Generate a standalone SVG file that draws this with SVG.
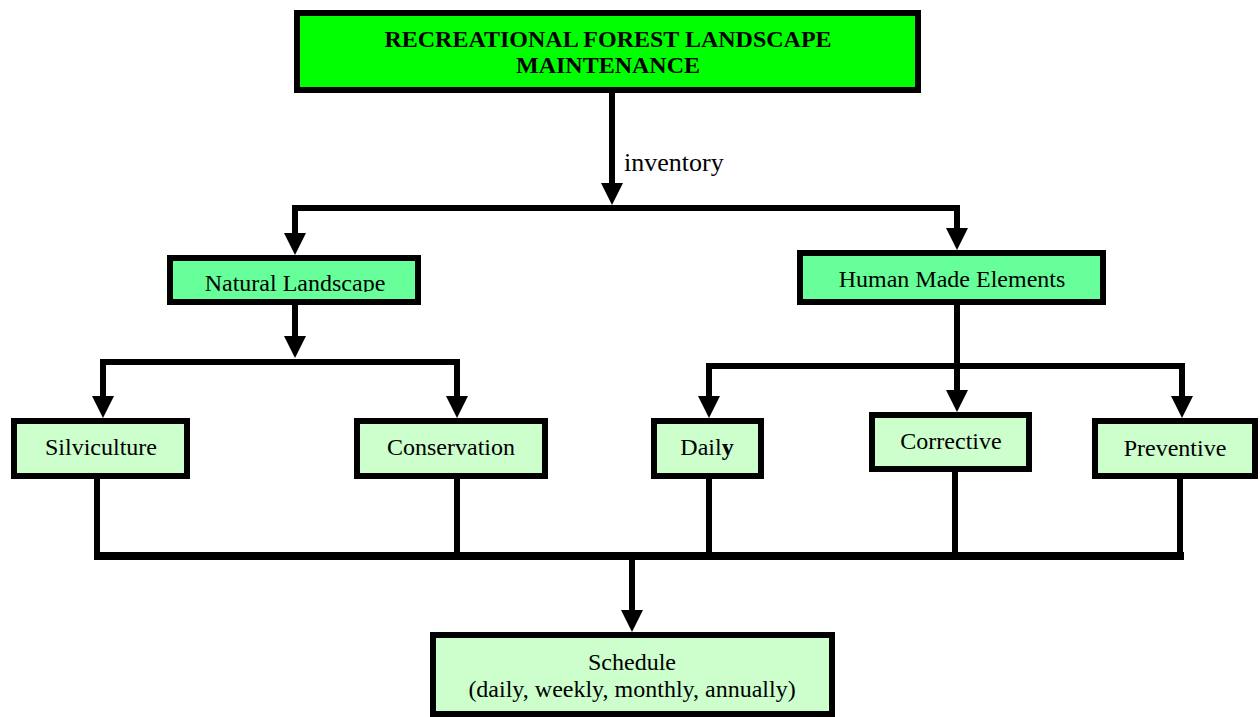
<svg xmlns="http://www.w3.org/2000/svg" width="1260" height="717" viewBox="0 0 1260 717">
<style>
.box{stroke:#000;stroke-width:6}
.top{fill:#00FF00}
.mid{fill:#66FF99}
.leaf{fill:#CCFFCC}
.t{font-family:"Liberation Serif","Times New Roman",serif;font-size:24px;fill:#000;text-anchor:middle}
.b{font-weight:bold;font-size:24px}
.c{fill:none;stroke:#000;stroke-width:6;stroke-linejoin:miter;stroke-linecap:butt}
</style>
<defs>
<marker id="ah" viewBox="0 0 22 22" markerWidth="22" markerHeight="22" markerUnits="userSpaceOnUse" refX="0" refY="11" orient="auto">
<path d="M0,0 L22,11 L0,22 z" fill="#000"/>
</marker>
<clipPath id="nlclip"><rect x="170" y="258" width="248" height="34"/></clipPath>
</defs>
<rect width="1260" height="717" fill="#fff"/>
<g id="connectors">
<path class="c" d="M612,92 L612,183" marker-end="url(#ah)"/>
<path class="c" d="M295,233 L295,208 L957,208 L957,228"/>
<path class="c" d="M295,228 L295,233" marker-end="url(#ah)"/>
<path class="c" d="M957,224 L957,228" marker-end="url(#ah)"/>
<path class="c" d="M295,304 L295,336" marker-end="url(#ah)"/>
<path class="c" d="M103,396 L103,362 L457,362 L457,396"/>
<path class="c" d="M103,390 L103,396" marker-end="url(#ah)"/>
<path class="c" d="M457,390 L457,396" marker-end="url(#ah)"/>
<path class="c" d="M957,304 L957,390" marker-end="url(#ah)"/>
<path class="c" d="M709,396 L709,366 L1182,366 L1182,396"/>
<path class="c" d="M709,390 L709,396" marker-end="url(#ah)"/>
<path class="c" d="M1182,390 L1182,396" marker-end="url(#ah)"/>
<path class="c" d="M97,479 L97,556"/>
<path class="c" d="M457,479 L457,556"/>
<path class="c" d="M709,479 L709,556"/>
<path class="c" d="M955,471 L955,556"/>
<path class="c" d="M1180,479 L1180,556"/>
<path class="c" style="stroke-width:8" d="M94,556 L1184,556"/>
<path class="c" d="M632,556 L632,610" marker-end="url(#ah)"/>
<text class="t" x="624" y="171" style="text-anchor:start;font-size:26px">inventory</text>
</g>
<g id="root">
<rect class="box top" x="297" y="13" width="621" height="77"/>
<text class="t b" x="608" y="47">RECREATIONAL FOREST LANDSCAPE</text>
<text class="t b" x="608" y="73">MAINTENANCE</text>
</g>
<g id="natural">
<rect class="box mid" x="170" y="258" width="248" height="44"/>
<text class="t" x="295" y="291" clip-path="url(#nlclip)">Natural Landscape</text>
</g>
<g id="human">
<rect class="box mid" x="800" y="253" width="303" height="49"/>
<text class="t" x="952" y="287">Human Made Elements</text>
</g>
<g id="silviculture">
<rect class="box leaf" x="14" y="421" width="173" height="55"/>
<text class="t" x="101" y="455">Silviculture</text>
</g>
<g id="conservation">
<rect class="box leaf" x="357" y="421" width="188" height="55"/>
<text class="t" x="451" y="455">Conservation</text>
</g>
<g id="daily">
<rect class="box leaf" x="654" y="421" width="107" height="55"/>
<text class="t" x="707" y="455">Dail<tspan font-weight="bold">y</tspan></text>
</g>
<g id="corrective">
<rect class="box leaf" x="872" y="415" width="157" height="54"/>
<text class="t" x="951" y="449">Corrective</text>
</g>
<g id="preventive">
<rect class="box leaf" x="1095" y="421" width="160" height="55"/>
<text class="t" x="1175" y="456">Preventive</text>
</g>
<g id="schedule">
<rect class="box leaf" x="433" y="635" width="399" height="79"/>
<text class="t" x="632" y="670">Schedule</text>
<text class="t" x="632" y="697">(daily, weekly, monthly, annually)</text>
</g>
</svg>
